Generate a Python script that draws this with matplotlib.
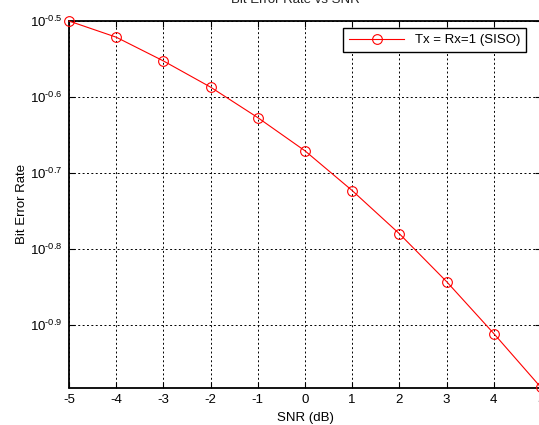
import numpy as np
import matplotlib
matplotlib.use('Agg')
import matplotlib.pyplot as plt
from matplotlib.ticker import FixedLocator, FixedFormatter, NullLocator

# - - - - data - - - -
snr = [-5, -4, -3, -2, -1, 0, 1, 2, 3, 4, 5]
ber = [0.3162, 0.3011, 0.2802, 0.2588, 0.2360, 0.2134,
       0.1892, 0.1660, 0.1436, 0.1227, 0.1042]
ytick_exp = ['-0.9', '-0.8', '-0.7', '-0.6', '-0.5']
legend_label = 'Tx = Rx=1 (SISO)'

plt.rcParams['font.family'] = ['Liberation Sans', 'DejaVu Sans']
plt.rcParams['mathtext.fontset'] = 'custom'
plt.rcParams['mathtext.rm'] = 'Liberation Sans'
plt.rcParams['mathtext.default'] = 'regular'

fs = 9.5


def main():
    fig = plt.figure(figsize=(5.39, 4.25), dpi=100)
    ax = fig.add_axes([69/539, 1-387.5/425, 472/539, (387.5-21)/425])

    ax.semilogy(snr, ber, color='red', linewidth=0.8, marker='o',
                markersize=7, markerfacecolor='none', markeredgewidth=0.8,
                label=legend_label, clip_on=False, zorder=3)

    ax.set_xlim(-5, 5)
    ax.set_ylim(ber[-1], 10**-0.5)
    ax.set_xticks(snr)
    ax.set_xticklabels([str(v) for v in snr])
    ax.yaxis.set_major_locator(FixedLocator([10**float(e) for e in ytick_exp]))
    ax.yaxis.set_major_formatter(FixedFormatter(
        ['$10^{\\text{%s}}$' % e for e in ytick_exp]))
    ax.yaxis.set_minor_locator(NullLocator())
    ax.tick_params(which='both', direction='in', top=True, right=True,
                   labelsize=fs, length=4, width=0.8, pad=5)

    ax.grid(True, color='black', linestyle=(0, (2, 2.5)), linewidth=0.7)
    for s in ax.spines.values():
        s.set_linewidth(1.3)

    ax.set_xlabel('SNR (dB)', fontsize=fs, labelpad=4)
    ax.set_ylabel('Bit Error Rate', fontsize=fs, labelpad=1)

    leg = ax.legend(loc='upper right', fontsize=fs, fancybox=False,
                    framealpha=1, edgecolor='black', borderaxespad=0.55,
                    handlelength=4.2, borderpad=0.45,
                    bbox_to_anchor=(527/541 + 0.01, 1.0))
    leg.get_frame().set_linewidth(1.0)

    # title is mostly cut off at the top in the reference
    fig.text(295/539, 1-3/425, 'Bit Error Rate vs SNR', ha='center',
             va='baseline', fontsize=fs, color='#222222')

    fig.savefig('out.png', dpi=100)


if __name__ == '__main__':
    main()
